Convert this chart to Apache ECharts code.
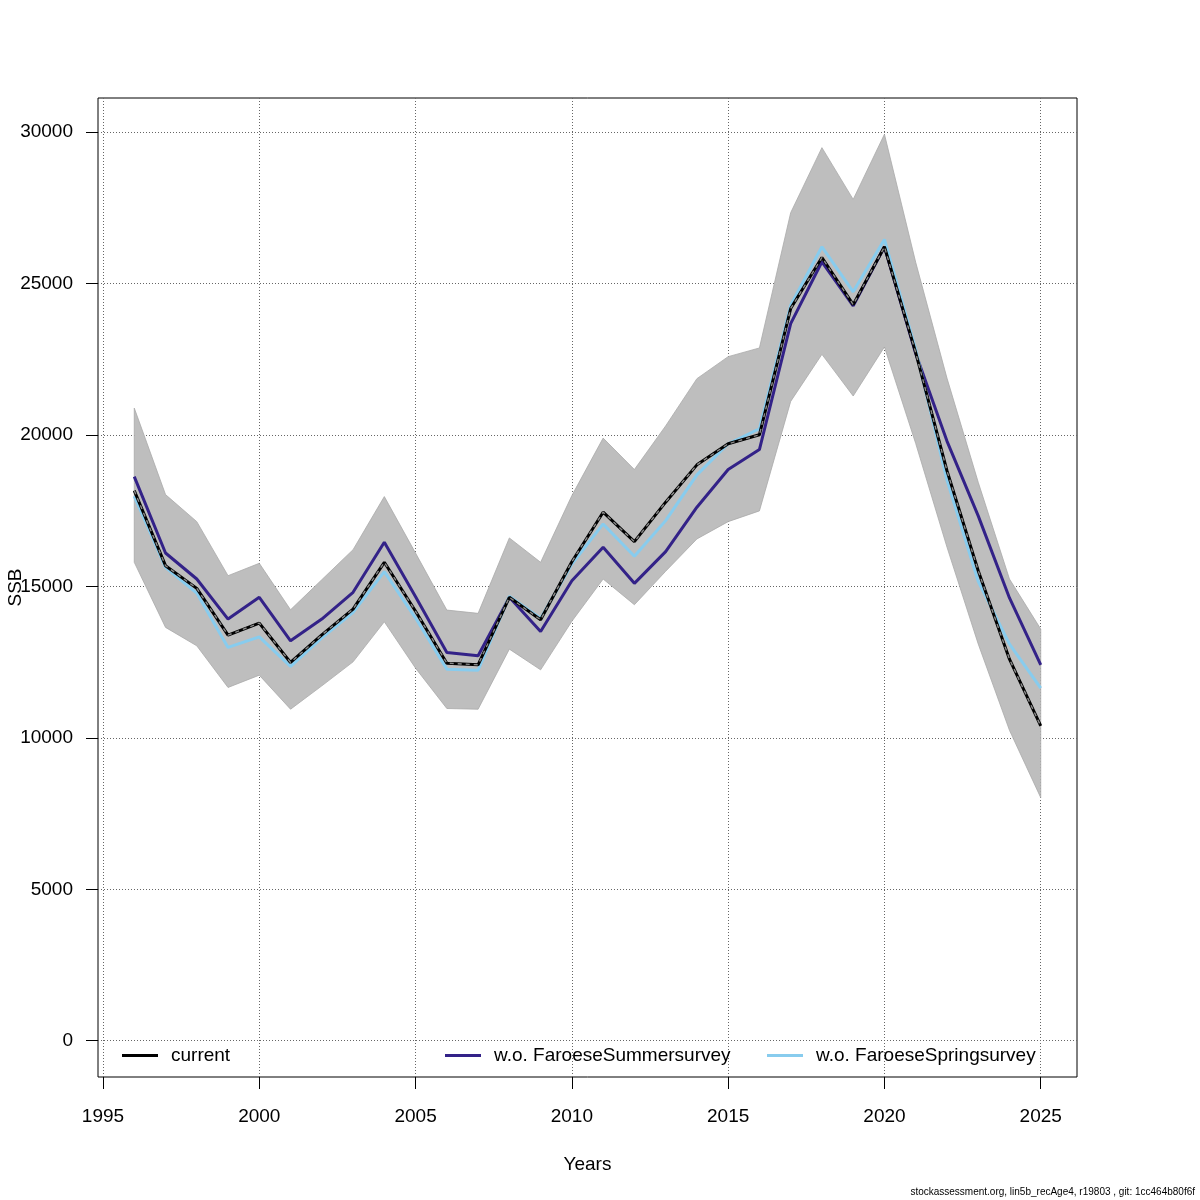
<!DOCTYPE html>
<html>
<head>
<meta charset="utf-8">
<title>SSB</title>
<script src="https://cdn.jsdelivr.net/npm/echarts@6/dist/echarts.min.js"></script>
<style>
  html, body { margin: 0; padding: 0; background: #fff; }
  #chart { width: 1200px; height: 1200px; }
</style>
</head>
<body>
<div id="chart"></div>
<script>
// years on the x axis
const years = [1996, 1997, 1998, 1999, 2000, 2001, 2002, 2003, 2004, 2005,
  2006, 2007, 2008, 2009, 2010, 2011, 2012, 2013, 2014, 2015,
  2016, 2017, 2018, 2019, 2020, 2021, 2022, 2023, 2024, 2025];

// SSB of the current fit
const current = [18165, 15685, 14937, 13393, 13790, 12490, 13400, 14253, 15797, 14180,
  12467, 12412, 14640, 13900, 15817, 17451, 16480, 17782, 19015, 19710,
  20007, 24175, 25861, 24306, 26215, 22720, 18820, 15520, 12600, 10394];

// fit without the Faroese summer survey
const woSummer = [18628, 16105, 15245, 13922, 14640, 13205, 13922, 14806, 16459, 14660,
  12822, 12710, 14640, 13515, 15190, 16294, 15102, 16148, 17617, 18860,
  19521, 23678, 25719, 24263, 26215, 22690, 19800, 17330, 14620, 12412];

// fit without the Faroese spring survey
const woSpring = [17980, 15632, 14782, 12986, 13337, 12358, 13300, 14143, 15487, 13955,
  12269, 12236, 14673, 13945, 15741, 17064, 15996, 17173, 18684, 19710,
  20206, 24284, 26215, 24727, 26456, 22820, 18510, 15170, 13096, 11641];

// confidence band of the current fit
const lower = [15797, 13648, 13040, 11664, 12070, 10946, 11717, 12510, 13833, 12300,
  10970, 10946, 12930, 12246, 13850, 15245, 14396, 15500, 16568, 17140,
  17494, 21109, 22663, 21287, 22907, 19720, 16300, 13100, 10250, 8026];
const upper = [20890, 18033, 17140, 15355, 15764, 14230, 15222, 16214, 17967, 16100,
  14220, 14111, 16601, 15797, 18000, 19898, 18860, 20300, 21860, 22587,
  22874, 27339, 29488, 27779, 29930, 25700, 21880, 18440, 15245, 13592];

const xTicks = [1995, 2000, 2005, 2010, 2015, 2020, 2025];
const yTicks = [0, 5000, 10000, 15000, 20000, 25000, 30000];

const legendNames = ['current', 'w.o. FaroeseSummersurvey', 'w.o. FaroeseSpringsurvey'];
const colCurrent = '#000000';
const colSummer = '#332288';
const colSpring = '#88CCEE';

// R style axis limits: data range plus 4 % on each side
const xSpan = years[years.length - 1] - years[0];
const xMin = years[0] - 0.04 * xSpan;
const xMax = years[years.length - 1] + 0.04 * xSpan;
const yTop = Math.max(...upper);
const yMin = -0.04 * yTop;
const yMax = yTop * 1.04;

const pairs = arr => years.map((y, i) => [y, arr[i]]);
// one row per year for the band polygon: year, low, high
const bandRows = years.map((y, i) => [y, lower[i], upper[i]]);

const font = 'Liberation Sans, Arial, sans-serif';
const gridLine = { show: true, lineStyle: { color: '#666', type: [1, 2], width: 1 } };

// band drawn as one polygon: upper edge left to right, lower edge back
function renderBand(params, api) {
  if (params.dataIndex !== 0) return null;
  const pts = [];
  bandRows.forEach(r => pts.push(api.coord([r[0], r[2]])));
  for (let i = bandRows.length - 1; i >= 0; i--) {
    pts.push(api.coord([bandRows[i][0], bandRows[i][1]]));
  }
  return {
    type: 'polygon',
    shape: { points: pts },
    style: { fill: '#bebebe', stroke: '#aaaaaa', lineWidth: 0.8 }
  };
}

const chart = echarts.init(document.getElementById('chart'), null, { renderer: 'canvas' });

chart.setOption({
  animation: false,
  backgroundColor: '#fff',
  grid: {
    left: 98, right: 123, top: 98, bottom: 123,
    containLabel: false, outerBoundsMode: 'none',
    show: true, borderColor: '#000', borderWidth: 1, backgroundColor: 'transparent'
  },
  xAxis: {
    type: 'value', min: xMin, max: xMax, position: 'bottom',
    name: 'Years', nameLocation: 'middle', nameGap: 78,
    nameTextStyle: { fontFamily: font, fontSize: 19, color: '#000' },
    axisLine: { show: false, onZero: false },
    axisTick: { show: true, inside: false, length: 12, customValues: xTicks, lineStyle: { color: '#000' } },
    axisLabel: {
      customValues: xTicks, margin: 30, fontFamily: font, fontSize: 19, color: '#000',
      formatter: v => String(v)
    },
    splitLine: gridLine
  },
  yAxis: {
    type: 'value', min: yMin, max: yMax, position: 'left',
    name: 'SSB', nameLocation: 'middle', nameGap: 73, nameRotate: 90, nameMoveOverlap: false,
    nameTextStyle: { fontFamily: font, fontSize: 19, color: '#000' },
    axisLine: { show: false, onZero: false },
    axisTick: { show: true, inside: false, length: 12, customValues: yTicks, lineStyle: { color: '#000' } },
    axisLabel: {
      customValues: yTicks, margin: 25, fontFamily: font, fontSize: 19, color: '#000',
      formatter: v => String(v)
    },
    splitLine: gridLine
  },
  legend: legendNames.map((n, i) => ({
    data: [n],
    left: [117, 440, 762][i],
    top: 1041,
    icon: 'rect',
    itemWidth: 36,
    itemHeight: 3,
    itemGap: 0,
    textStyle: { fontFamily: font, fontSize: 19, color: '#000', padding: [0, 0, 0, 8] },
    selectedMode: false
  })),
  series: [
    {
      name: 'band', type: 'custom', data: bandRows, renderItem: renderBand,
      encode: { x: 0, y: [1, 2] }, silent: true, z: 1, clip: true
    },
    {
      name: legendNames[1], type: 'line', data: pairs(woSummer),
      symbol: 'none', itemStyle: { color: colSummer }, lineStyle: { color: colSummer, width: 3 }, z: 3
    },
    {
      name: legendNames[2], type: 'line', data: pairs(woSpring),
      symbol: 'none', itemStyle: { color: colSpring }, lineStyle: { color: colSpring, width: 3 }, z: 3
    },
    {
      name: legendNames[0], type: 'line', data: pairs(current),
      symbol: 'none', itemStyle: { color: colCurrent }, lineStyle: { color: colCurrent, width: 3 }, z: 4
    },
    {
      name: 'current-dash', type: 'line', data: pairs(current),
      symbol: 'none', lineStyle: { color: '#8a8a8a', width: 1.4, type: [4, 4] }, z: 5
    }
  ],
  graphic: [{
    type: 'text', right: 5, bottom: 3,
    style: {
      text: 'stockassessment.org, lin5b_recAge4, r19803 , git: 1cc464b80f6f',
      font: '10px ' + font, fill: '#000'
    }
  }]
});
</script>
</body>
</html>
